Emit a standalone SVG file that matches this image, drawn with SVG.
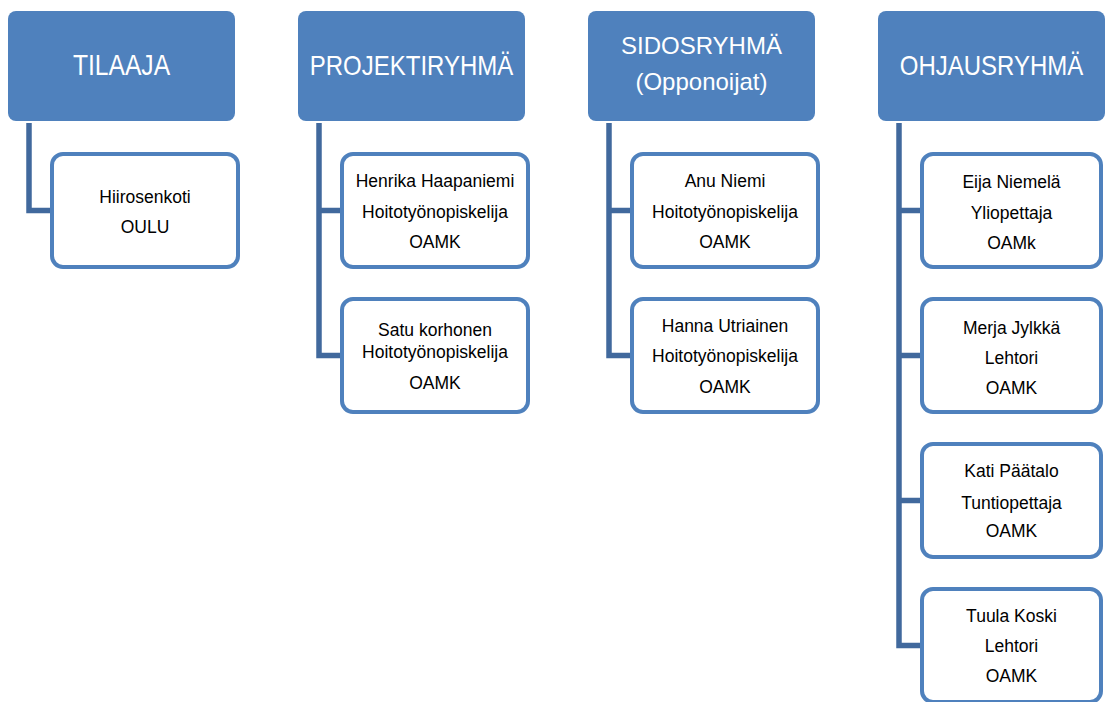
<svg xmlns="http://www.w3.org/2000/svg" width="1105" height="702" viewBox="0 0 1105 702">
<style>
.hdr{fill:#4F81BD;}
.ht{fill:#fff;font-family:"Liberation Sans",Arial,sans-serif;text-anchor:middle;}
.box{fill:#fff;stroke:#4F81BD;stroke-width:4;}
.ct{fill:#000;font-family:"Liberation Sans",Arial,sans-serif;font-size:17.5px;text-anchor:middle;}
.con{fill:none;stroke:#41699D;stroke-width:5.5;stroke-linejoin:miter;stroke-linecap:butt;}
</style>
<rect width="1105" height="702" fill="#fff"/>
<g id="connectors">
<path class="con" d="M29 123 V210.5 H50"/>
<path class="con" d="M319 123 V355.5 H340 M319 210.5 H340"/>
<path class="con" d="M609 123 V355.5 H630 M609 210.5 H630"/>
<path class="con" d="M899 123 V645.5 H920 M899 210.5 H920 M899 355.5 H920 M899 500.5 H920"/>
</g>
<g id="tilaaja">
<rect class="hdr" x="8" y="11" width="227" height="110" rx="8"/>
<text class="ht" transform="translate(121.5 74.5) scale(0.85 1)" x="0" y="0" font-size="29">TILAAJA</text>
</g>
<g id="projektiryhma">
<rect class="hdr" x="298" y="11" width="227" height="110" rx="8"/>
<text class="ht" transform="translate(411.5 75) scale(0.857 1)" x="0" y="0" font-size="28">PROJEKTIRYHMÄ</text>
</g>
<g id="sidosryhma">
<rect class="hdr" x="588" y="11" width="227" height="110" rx="8"/>
<text class="ht" x="701.5" y="53.5" font-size="24">SIDOSRYHMÄ</text>
<text class="ht" x="701.5" y="90" font-size="24">(Opponoijat)</text>
</g>
<g id="ohjausryhma">
<rect class="hdr" x="878" y="11" width="227" height="110" rx="8"/>
<text class="ht" transform="translate(991.5 75) scale(0.857 1)" x="0" y="0" font-size="28">OHJAUSRYHMÄ</text>
</g>
<g id="hiirosenkoti">
<rect class="box" x="52" y="154" width="186" height="113" rx="11"/>
<text class="ct" x="145" y="203">Hiirosenkoti</text>
<text class="ct" x="145" y="233">OULU</text>
</g>
<g id="henrika">
<rect class="box" x="342" y="154" width="186" height="113" rx="11"/>
<text class="ct" x="435" y="187">Henrika Haapaniemi</text>
<text class="ct" x="435" y="217.5">Hoitotyönopiskelija</text>
<text class="ct" x="435" y="248">OAMK</text>
</g>
<g id="satu">
<rect class="box" x="342" y="299" width="186" height="113" rx="11"/>
<text class="ct" x="435" y="335.5">Satu korhonen</text>
<text class="ct" x="435" y="357.5">Hoitotyönopiskelija</text>
<text class="ct" x="435" y="388.5">OAMK</text>
</g>
<g id="anu">
<rect class="box" x="632" y="154" width="186" height="113" rx="11"/>
<text class="ct" x="725" y="187">Anu Niemi</text>
<text class="ct" x="725" y="217.5">Hoitotyönopiskelija</text>
<text class="ct" x="725" y="248">OAMK</text>
</g>
<g id="hanna">
<rect class="box" x="632" y="299" width="186" height="113" rx="11"/>
<text class="ct" x="725" y="332">Hanna Utriainen</text>
<text class="ct" x="725" y="362">Hoitotyönopiskelija</text>
<text class="ct" x="725" y="393">OAMK</text>
</g>
<g id="eija">
<rect class="box" x="922" y="154" width="179" height="113" rx="11"/>
<text class="ct" x="1011.5" y="187.5">Eija Niemelä</text>
<text class="ct" x="1011.5" y="218.5">Yliopettaja</text>
<text class="ct" x="1011.5" y="248.5">OAMk</text>
</g>
<g id="merja">
<rect class="box" x="922" y="299" width="179" height="113" rx="11"/>
<text class="ct" x="1011.5" y="333.5">Merja Jylkkä</text>
<text class="ct" x="1011.5" y="363.5">Lehtori</text>
<text class="ct" x="1011.5" y="393.5">OAMK</text>
</g>
<g id="kati">
<rect class="box" x="922" y="444" width="179" height="113" rx="11"/>
<text class="ct" x="1011.5" y="477">Kati Päätalo</text>
<text class="ct" x="1011.5" y="508.5">Tuntiopettaja</text>
<text class="ct" x="1011.5" y="537">OAMK</text>
</g>
<g id="tuula">
<rect class="box" x="922" y="589" width="179" height="113" rx="11"/>
<text class="ct" x="1011.5" y="622">Tuula Koski</text>
<text class="ct" x="1011.5" y="652">Lehtori</text>
<text class="ct" x="1011.5" y="682">OAMK</text>
</g>
</svg>
